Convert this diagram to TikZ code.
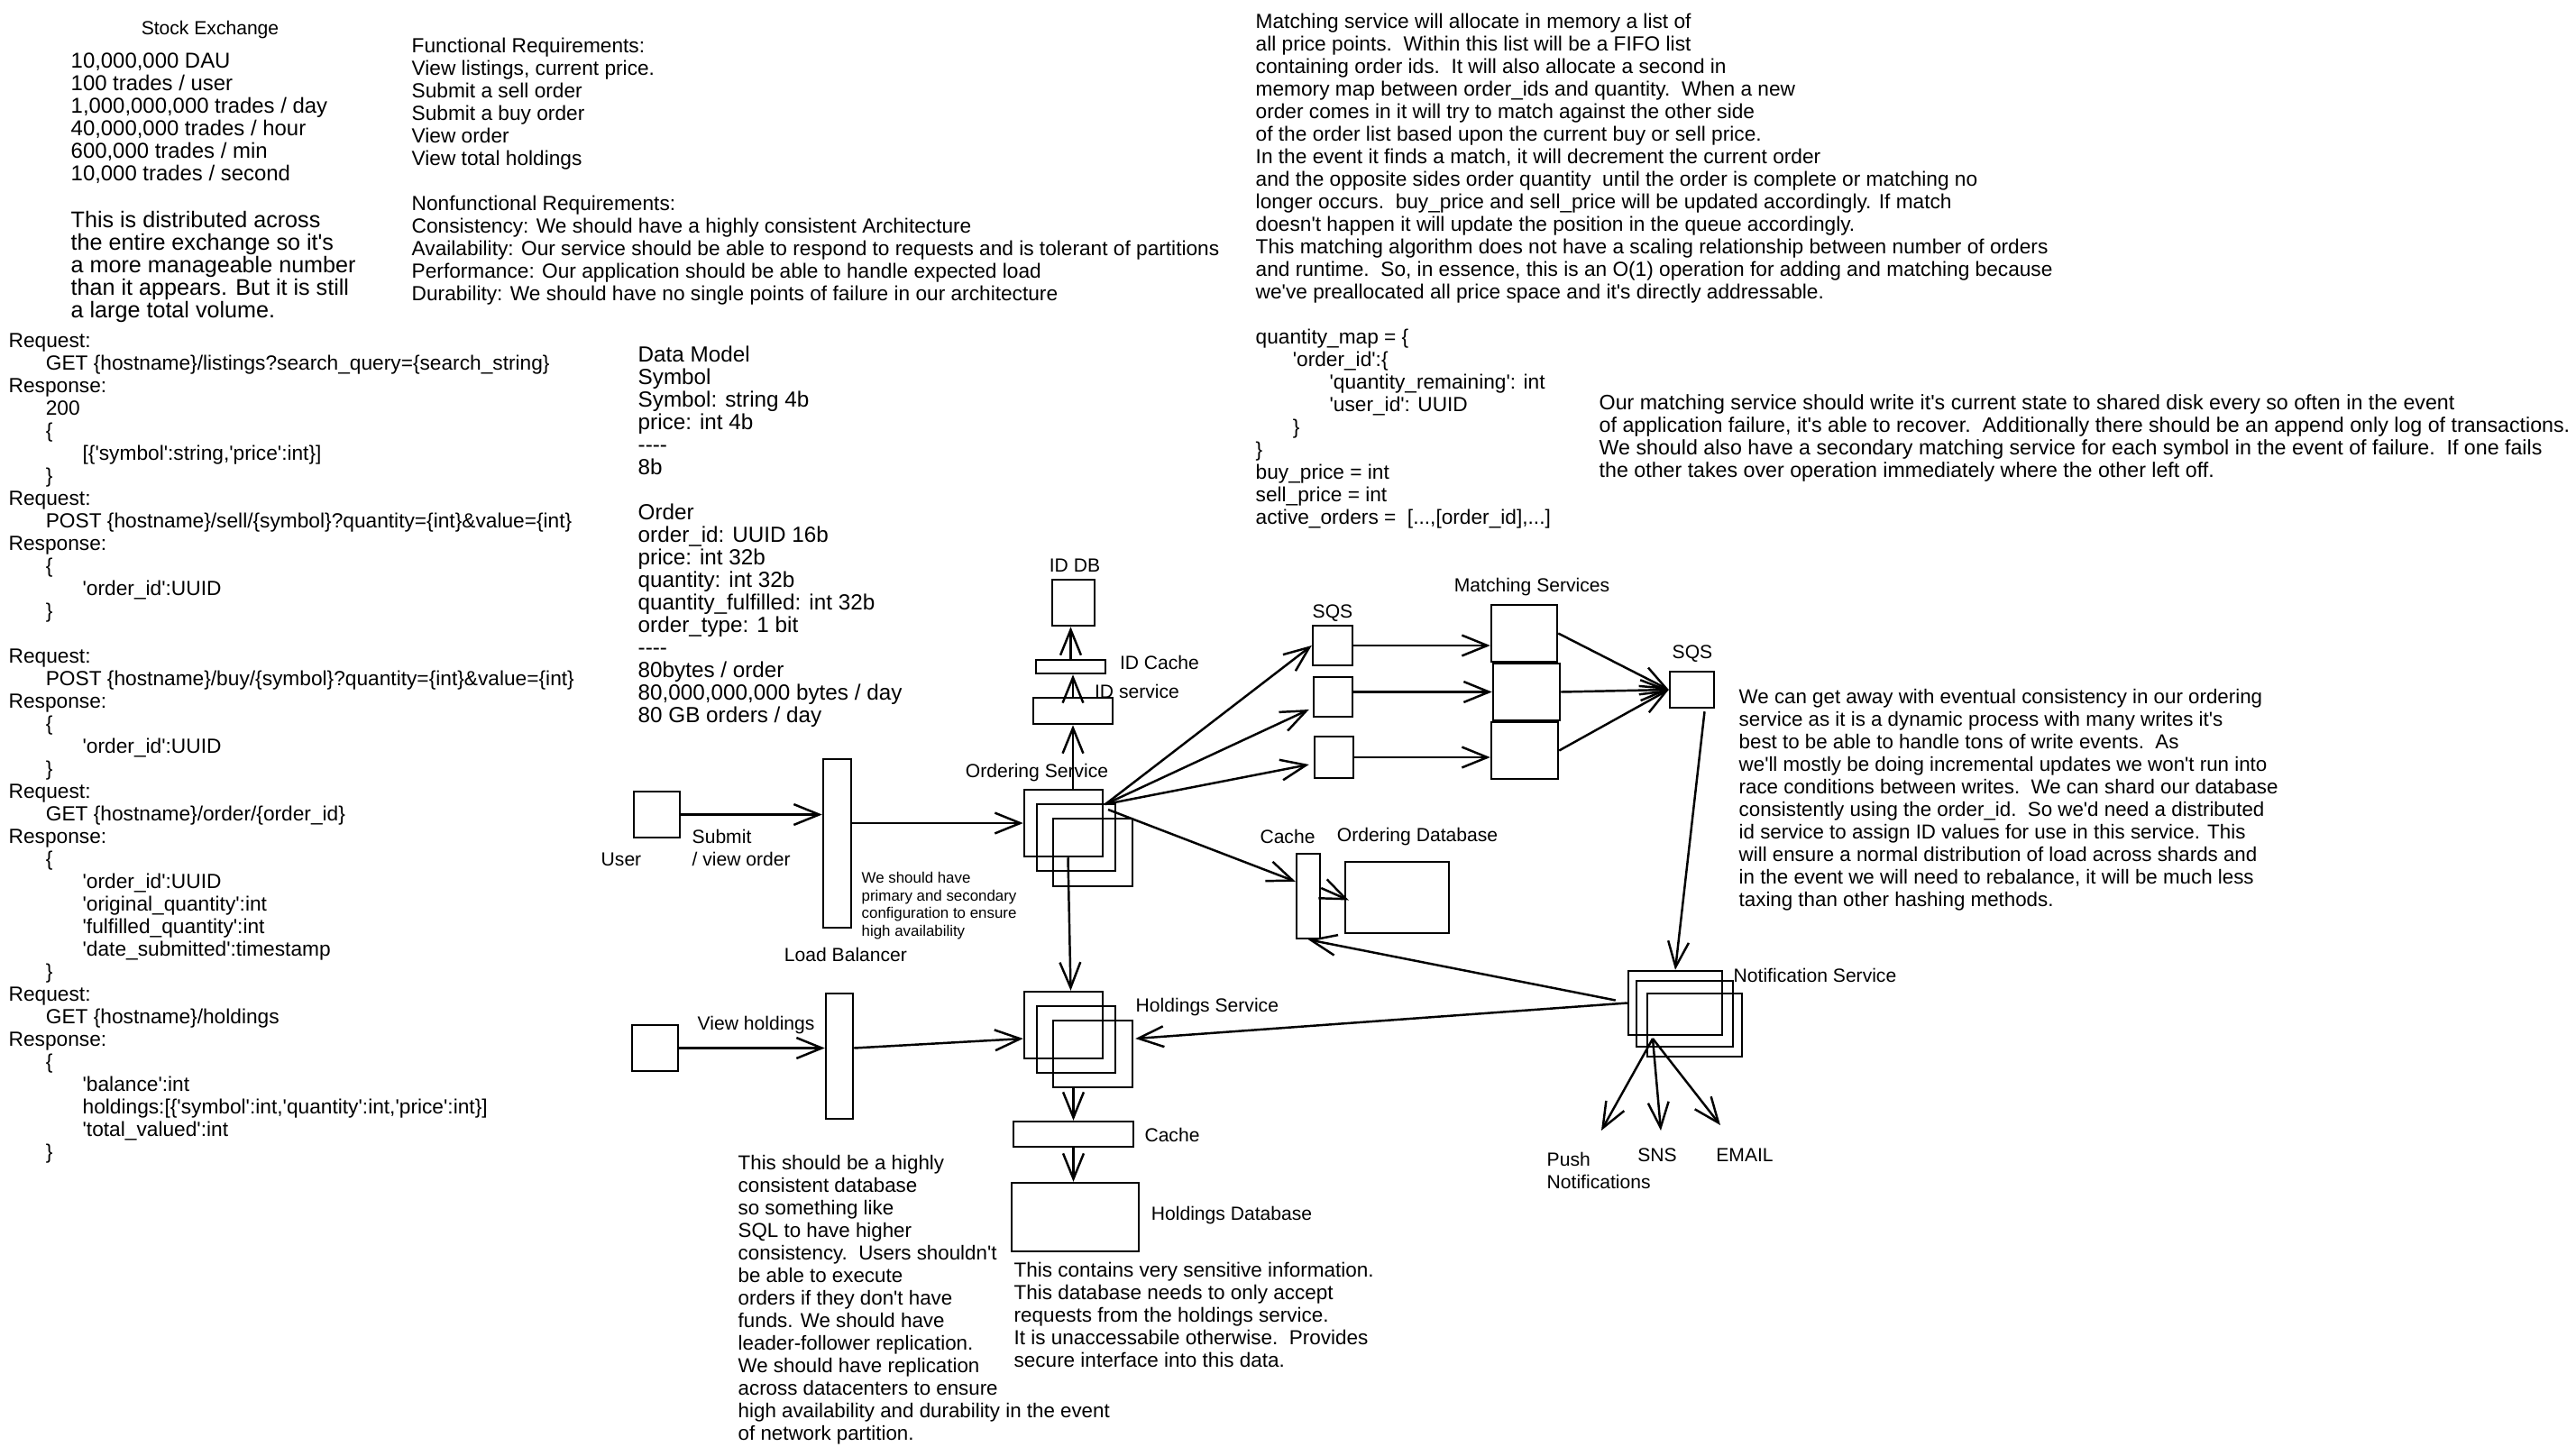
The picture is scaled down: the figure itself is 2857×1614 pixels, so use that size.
\documentclass[tikz,border=0pt]{standalone}
\usepackage{fontspec}
\newfontfamily\hand{Liberation Sans}[Ligatures=TeXOff]
\usetikzlibrary{arrows.meta,calc}
\newcommand\fs[1]{\hand\fontsize{#1}{7.11}\selectfont}
\newcommand\ia{\hspace*{11.7pt}}
\newcommand\ib{\hspace*{23.3pt}}
% rectangle node from its two corners (in picture units)
\newcommand\mkbox[5]{%
  \pgfmathsetmacro\bw{(#4-#2)*0.01}%
  \pgfmathsetmacro\bh{(#5-#3)*0.01}%
  \node[box, minimum width=\bw cm, minimum height=\bh cm] (#1) at ({(#2+#4)/2},{(#3+#5)/2}) {};}
\begin{document}
\begin{tikzpicture}[x=0.01cm, y=-0.01cm,
  box/.style={draw, line width=0.7pt, inner sep=0pt},
  arr/.style={line width=0.7pt, -{Straight Barb[length=8pt,width=6.5pt,line width=0.7pt]}},
  lbl/.style={inner sep=0pt, font=\fs{6}},
  blk/.style={inner sep=0pt, anchor=north west, align=left}]
\fill[white] (0,0) rectangle (2857,1614);
\useasboundingbox (0,0) rectangle (2857,1614);

% ---------------- text blocks ----------------
\node[lbl] (title) at (233,33) {Stock Exchange};
\node[blk, font=\fs{6.8}] (stats) at (78,58) {10,000,000 DAU\\100 trades / user\\1,000,000,000 trades / day\\40,000,000 trades / hour\\600,000 trades / min\\10,000 trades / second};
\node[blk, font=\fs{7.15}] (scale) at (78,234) {This is distributed across\\the entire exchange so it's\\a more manageable number\\than it appears. But it is still\\a large total volume.};

\node[blk, font=\fs{6.45}] (reqs) at (456,41) {Functional Requirements:\\View listings, current price.\\Submit a sell order\\Submit a buy order\\View order\\View total holdings\\[7.11pt]Nonfunctional Requirements:\\Consistency: We should have a highly consistent Architecture\\Availability: Our service should be able to respond to requests and is tolerant of partitions\\Performance: Our application should be able to handle expected load\\Durability: We should have no single points of failure in our architecture};

\node[blk, font=\fs{6.46}] (api) at (9,369) {Request:\\
\ia GET \{hostname\}/listings?search\_query=\{search\_string\}\\
Response:\\
\ia 200\\
\ia\{\\
\ib[\{'symbol':string,'price':int\}]\\
\ia\}\\
Request:\\
\ia POST \{hostname\}/sell/\{symbol\}?quantity=\{int\}\&value=\{int\}\\
Response:\\
\ia\{\\
\ib'order\_id':UUID\\
\ia\}\\[7.11pt]
Request:\\
\ia POST \{hostname\}/buy/\{symbol\}?quantity=\{int\}\&value=\{int\}\\
Response:\\
\ia\{\\
\ib'order\_id':UUID\\
\ia\}\\
Request:\\
\ia GET \{hostname\}/order/\{order\_id\}\\
Response:\\
\ia\{\\
\ib'order\_id':UUID\\
\ib'original\_quantity':int\\
\ib'fulfilled\_quantity':int\\
\ib'date\_submitted':timestamp\\
\ia\}\\
Request:\\
\ia GET \{hostname\}/holdings\\
Response:\\
\ia\{\\
\ib'balance':int\\
\ib holdings:[\{'symbol':int,'quantity':int,'price':int\}]\\
\ib'total\_valued':int\\
\ia\}};

\node[blk, font=\fs{6.9}] (model) at (707,383) {Data Model\\Symbol\\Symbol: string 4b\\price: int 4b\\----\\8b\\[7.11pt]Order\\order\_id: UUID 16b\\price: int 32b\\quantity: int 32b\\quantity\_fulfilled: int 32b\\order\_type: 1 bit\\----\\80bytes / order\\80,000,000,000 bytes / day\\80 GB orders / day};

\node[blk, font=\fs{6.45}] (matching) at (1392,14) {Matching service will allocate in memory a list of\\
all price points.\ \ Within this list will be a FIFO list\\
containing order ids.\ \ It will also allocate a second in\\
memory map between order\_ids and quantity.\ \ When a new\\
order comes in it will try to match against the other side\\
of the order list based upon the current buy or sell price.\\
In the event it finds a match, it will decrement the current order\\
and the opposite sides order quantity\ \ until the order is complete or matching no\\
longer occurs.\ \ buy\_price and sell\_price will be updated accordingly. If match\\
doesn't happen it will update the position in the queue accordingly.\\
This matching algorithm does not have a scaling relationship between number of orders\\
and runtime.\ \ So, in essence, this is an O(1) operation for adding and matching because\\
we've preallocated all price space and it's directly addressable.\\[7.11pt]
quantity\_map = \{\\
\ia'order\_id':\{\\
\ib'quantity\_remaining': int\\
\ib'user\_id': UUID\\
\ia\}\\
\}\\
buy\_price = int\\
sell\_price = int\\
active\_orders = \ [...,[order\_id],...]};

\node[blk, font=\fs{6.6}] (failover) at (1773,437) {Our matching service should write it's current state to shared disk every so often in the event\\
of application failure, it's able to recover.\ \ Additionally there should be an append only log of transactions.\\
We should also have a secondary matching service for each symbol in the event of failure.\ \ If one fails\\
the other takes over operation immediately where the other left off.};

\node[blk, font=\fs{6.35}] (consist) at (1928,764) {We can get away with eventual consistency in our ordering\\
service as it is a dynamic process with many writes it's\\
best to be able to handle tons of write events.\ \ As\\
we'll mostly be doing incremental updates we won't run into\\
race conditions between writes.\ \ We can shard our database\\
consistently using the order\_id.\ \ So we'd need a distributed\\
id service to assign ID values for use in this service. This\\
will ensure a normal distribution of load across shards and\\
in the event we will need to rebalance, it will be much less\\
taxing than other hashing methods.};

\node[blk, font=\fs{6.35}] (holdnote) at (818,1281) {This should be a highly\\
consistent database\\
so something like\\
SQL to have higher\\
consistency.\ \ Users shouldn't\\
be able to execute\\
orders if they don't have\\
funds. We should have\\
leader-follower replication.\\
We should have replication\\
across datacenters to ensure\\
high availability and durability in the event\\
of network partition.};

\node[blk, font=\fs{6.4}] (secure) at (1124,1399) {This contains very sensitive information.\\
This database needs to only accept\\
requests from the holdings service.\\
It is unaccessabile otherwise.\ \ Provides\\
secure interface into this data.};

\node[blk, font=\hand\fontsize{4.8}{5.55}\selectfont] (lbnote) at (955,967) {We should have\\primary and secondary\\configuration to ensure\\high availability};

% ---------------- components ----------------
\mkbox{user}{703}{878}{754}{929}
\mkbox{lb1}{913}{842}{944}{1029}
\mkbox{vh}{701}{1137}{752}{1188}
\mkbox{lb2}{916}{1102}{946}{1241}
\mkbox{os1}{1136}{876}{1223}{950}
\mkbox{os2}{1150}{892}{1237}{966}
\mkbox{os3}{1168}{908}{1256}{983}
\mkbox{idsvc}{1146}{774}{1234}{803}
\mkbox{idcache}{1149}{732}{1226}{747}
\mkbox{iddb}{1167}{643}{1214}{694}
\mkbox{sqs1}{1456}{694}{1500}{738}
\mkbox{sqs2}{1457}{751}{1500}{795}
\mkbox{sqs3}{1458}{817}{1501}{863}
\mkbox{ms1}{1654}{671}{1727}{734}
\mkbox{ms2}{1656}{736}{1730}{799}
\mkbox{ms3}{1654}{801}{1728}{864}
\mkbox{sqs4}{1852}{745}{1901}{785}
\mkbox{ns1}{1806}{1077}{1910}{1148}
\mkbox{ns2}{1815}{1088}{1922}{1161}
\mkbox{ns3}{1827}{1102}{1932}{1172}
\mkbox{ocache}{1438}{947}{1464}{1041}
\mkbox{odb}{1492}{956}{1607}{1035}
\mkbox{hs1}{1136}{1100}{1223}{1174}
\mkbox{hs2}{1150}{1116}{1237}{1190}
\mkbox{hs3}{1168}{1132}{1256}{1206}
\mkbox{hcache}{1124}{1244}{1257}{1272}
\mkbox{hdb}{1122}{1312}{1263}{1388}

% ---------------- labels ----------------
\node[lbl] (userl) at (689,953) {User};
\node[lbl, anchor=west, align=left] (submitl) at (767,940) {Submit\\/ view order};
\node[lbl] (lbl1) at (938,1059) {Load Balancer};
\node[lbl, anchor=west] (vhl) at (773,1137) {View holdings};
\node[lbl] (iddbl) at (1192,627) {ID DB};
\node[lbl] (idcachel) at (1286,735) {ID Cache};
\node[lbl] (idsvcl) at (1261,767) {ID service};
\node[lbl] (osl) at (1150,857) {Ordering Service};
\node[lbl] (sqsl) at (1478,680) {SQS};
\node[lbl] (msl) at (1699,651) {Matching Services};
\node[lbl] (sqs4l) at (1877,725) {SQS};
\node[lbl] (ocachel) at (1428,928) {Cache};
\node[lbl] (odbl) at (1572,928) {Ordering Database};
\node[lbl] (nsl) at (2013,1082) {Notification Service};
\node[lbl, anchor=north west, align=left] (push) at (1715,1277) {Push\\Notifications};
\node[lbl] (sns) at (1838,1281) {SNS};
\node[lbl] (email) at (1935,1281) {EMAIL};
\node[lbl, anchor=west] (hsl) at (1259,1117) {Holdings Service};
\node[lbl] (hcachel) at (1300,1259) {Cache};
\node[lbl] (hdbl) at (1366,1348) {Holdings Database};

% ---------------- connectors ----------------
\draw[arr] (user.east) -- (lb1.west |- user.east);
\draw[arr] (lb1.east |- os1.west) -- (os1.west);
\draw[arr] (vh.east) -- (lb2.west |- vh.east);
\draw[arr] (lb2.east |- vh.east) -- ($(hs1.west)+(0,15)$);

\draw[arr] (idsvc.south |- os1.north) -- (idsvc.south);
\draw[arr] (idsvc.north) -- (idsvc.north |- idcache.south);
\draw[arr] (idcache.north) -- (idcache.north |- iddb.south);

\coordinate (osout) at (1226,892);
\draw[arr] (osout) -- (sqs1.west);
\draw[arr] (osout) -- ($(sqs2.west)+(-4,14)$);
\draw[arr] (osout) -- ($(sqs3.west)+(-5,8)$);
\draw[arr] ($(osout)+(3,6)$) -- ($(ocache.north west)+(0,32)$);
\draw[arr] ($(ocache.east)+(0,-9)$) -- ($(odb.west)+(5,3)$);

\draw[arr] (sqs1.east) -- (ms1.west |- sqs1.east);
\draw[arr] (sqs2.east |- ms2.west) -- (ms2.west);
\draw[arr] (sqs3.east) -- (ms3.west |- sqs3.east);

\draw[arr] (ms1.east) -- (sqs4.west);
\draw[arr] (ms2.east) -- (sqs4.west);
\draw[arr] (ms3.east) -- (sqs4.west);
\draw[arr] ($(sqs4.south)+(14,3)$) -- (ns1.north);

\draw[arr] ($(ns1.west)+(-13,-3)$) -- (ocache.south);
\draw[arr] (ns1.west) -- ($(hs3.east)+(2,-17)$);

\coordinate (nsout) at (1833,1152);
\coordinate (pushtip) at (1776,1254);
\coordinate (snstip) at (1842,1254);
\coordinate (emailtip) at (1908,1248);
\draw[arr] (nsout) -- (pushtip);
\draw[arr] (nsout) -- (snstip);
\draw[arr] (nsout) -- (emailtip);

\draw[arr] ($(os1.south)+(5,0)$) -- ($(hs1.north)+(8,0)$);
\draw[arr] (hcache.north |- hs3.south) -- (hcache.north);
\draw[arr] (hcache.south) -- (hcache.south |- hdb.north);
\end{tikzpicture}
\end{document}
